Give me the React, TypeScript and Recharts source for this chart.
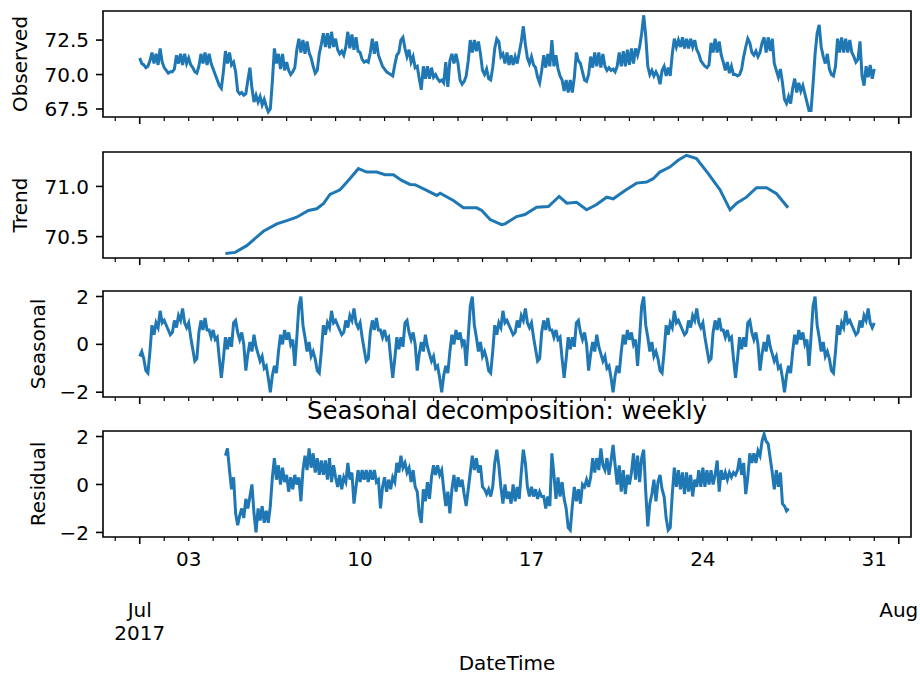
import { Line, LineChart, ReferenceArea, XAxis, YAxis } from "recharts";

// samples every 2 hours, x is days since 2017-07-01 00:00
const STEP = 1 / 12;
const RESIDUAL_START = 3.5;

const observed = [
  71.2, 70.8, 70.7, 70.5, 70.6, 71.0, 71.6, 70.8, 71.5, 70.7, 71.9, 70.9,
  70.5, 70.3, 70.1, 70.2, 70.2, 70.4, 71.4, 70.8, 71.5, 70.7, 71.5, 70.8,
  71.2, 70.7, 70.5, 70.2, 70.1, 70.6, 71.5, 70.8, 71.6, 70.7, 71.5, 70.8,
  70.4, 70.0, 69.6, 69.2, 69.0, 70.2, 71.7, 70.8, 71.6, 70.7, 70.9, 70.2,
  68.8, 68.6, 68.7, 68.5, 68.6, 69.6, 70.5, 69.0, 68.0, 68.5, 68.0, 68.4,
  67.8, 68.2, 67.7, 67.3, 67.5, 69.5, 71.9, 70.8, 71.5, 70.4, 71.5, 70.3,
  70.9, 70.3, 70.0, 70.2, 70.5, 71.8, 72.6, 71.6, 72.5, 71.5, 72.4, 71.6,
  71.2, 70.6, 70.1, 70.3, 71.5, 72.2, 73.0, 72.0, 73.0, 71.9, 73.1, 72.0,
  72.6, 71.8, 71.5, 71.7, 71.4, 72.0, 73.1, 71.9, 72.9, 71.8, 72.7, 71.7,
  71.6, 71.1, 70.9, 71.0, 70.9, 71.6, 72.6, 71.5, 72.4, 71.4, 71.0, 70.6,
  70.4, 70.2, 70.1, 70.0, 69.9, 70.7, 71.4, 71.6, 72.5, 72.7, 71.9, 71.3,
  71.8, 70.9, 71.3, 70.5, 70.6, 69.7, 68.9, 70.6, 69.7, 70.6, 69.7, 70.5,
  69.8, 70.0, 69.7, 69.5, 69.6, 69.4, 70.9, 69.1, 71.0, 71.5, 70.8, 71.5,
  70.8, 69.6, 69.3, 69.5, 69.9, 71.0, 72.5, 71.6, 72.5, 71.7, 72.4, 71.5,
  70.3, 70.0, 70.4, 69.7, 69.6, 70.5, 71.9, 72.6, 72.4, 71.3, 71.5, 70.8,
  71.6, 70.7, 71.4, 70.7, 71.3, 70.8, 71.6, 72.4, 73.5, 72.2, 71.2, 70.8,
  71.3, 70.7, 70.5, 69.8, 69.4, 70.3, 71.4, 70.5, 71.5, 70.6, 72.5, 70.6,
  71.4, 70.4, 69.9, 69.6, 68.8, 69.6, 68.7, 69.6, 68.7, 69.8, 71.6, 71.0,
  70.8, 70.2, 69.6, 69.5, 70.0, 71.3, 70.5, 71.6, 70.6, 71.6, 70.5, 71.5,
  70.6, 70.3, 70.5, 70.3, 70.4, 70.2, 70.6, 71.6, 70.6, 71.7, 70.6, 71.8,
  70.7, 71.9, 70.8, 71.9, 71.4, 72.0, 73.0, 74.3, 72.8, 70.6, 70.0, 70.3,
  69.9, 70.2, 69.9, 69.3, 70.3, 70.6, 69.9, 70.5, 69.9, 71.5, 72.6, 72.0,
  72.5, 72.0, 72.7, 71.9, 72.6, 71.9, 72.6, 72.0, 72.5, 71.8, 71.5, 71.0,
  70.8, 70.6, 70.5, 70.7, 72.3, 71.6, 72.6, 71.6, 72.4, 71.4, 70.9, 70.3,
  70.9, 70.1, 70.6, 70.0, 70.0, 69.9, 70.0, 70.4, 71.3, 72.0, 72.6, 72.3,
  71.6, 71.4, 71.7, 71.3, 71.6, 72.3, 72.7, 71.6, 72.7, 71.7, 72.6, 70.8,
  70.3, 69.8, 70.4, 69.4, 68.2, 67.9, 68.4, 67.9, 69.0, 69.7, 68.7, 69.4,
  68.8, 69.2, 68.6, 68.0, 67.4, 67.4, 69.3, 71.5, 73.0, 73.6, 72.0, 71.3,
  70.8, 71.5, 70.4, 70.0, 69.9, 70.6, 72.6, 71.6, 72.7, 71.6, 72.6, 71.6,
  72.5, 71.6, 71.3, 70.9, 71.1, 72.4, 69.9, 69.2, 70.6, 69.8, 70.7, 69.7,
  70.4,
];

const trendDays = [
  3.5, 3.9, 4.37, 5.05, 5.6, 6.01, 6.41, 6.89, 7.23, 7.5,
  7.77, 8.18, 8.52, 8.93, 9.27, 9.68, 10.02, 10.36, 10.7, 11.04,
  11.24, 11.72, 12.13, 12.27, 12.81, 13.22, 13.76, 13.97, 14.31, 14.78,
  14.92, 15.39, 15.73, 16.21, 16.69, 17.13, 17.44, 17.84, 18.25, 18.66,
  19.07, 19.34, 19.82, 20.29, 20.7, 20.97, 21.24, 21.65, 21.99, 22.33,
  22.74, 23.22, 23.7, 24.11, 24.38, 24.78, 25.19, 25.6, 26.01, 26.48,
];
const trendValues = [
  70.333, 70.343, 70.41, 70.553, 70.627, 70.66, 70.693, 70.76, 70.777, 70.827,
  70.92, 70.967, 71.06, 71.177, 71.143, 71.143, 71.117, 71.117, 71.06, 71.02,
  71.017, 70.96, 70.91, 70.933, 70.86, 70.787, 70.787, 70.76, 70.67, 70.62,
  70.627, 70.7, 70.72, 70.793, 70.8, 70.9, 70.833, 70.843, 70.767, 70.82,
  70.893, 70.877, 70.96, 71.033, 71.043, 71.077, 71.143, 71.193, 71.26, 71.31,
  71.277, 71.127, 70.967, 70.767, 70.833, 70.893, 70.987, 70.987, 70.927, 70.787,
];

// weekly component, same shape each week (Jul 1, 8, 15, 22, 29)
const seasonal = [
  -0.5, -0.3, -0.6, -1.1, -1.2, -0.3, 0.8, 0.4, 0.9, 0.7, 1.4, 0.9,
  1.0, 0.8, 0.6, 0.4, 0.5, 1.0, 0.7, 1.2, 1.0, 1.5, 0.9, 0.7,
  0.9, 0.3, -0.2, -0.7, -0.6, 0.5, 1.0, 0.6, 1.1, 0.6, 0.6, 0.3,
  0.6, 0.2, 0.3, -0.6, -1.4, -0.6, 0.3, -0.2, 0.3, -0.1, 0.9, 1.0,
  0.5, 0.2, 0.5, 0.0, -1.1, -0.4, 0.1, -0.3, 0.4, -0.1, -0.4, -0.7,
  -0.5, -1.0, -0.9, -1.4, -2.0, -1.3, -0.9, -1.2, -0.3, 0.4, 0.0, 0.6,
  0.2, 0.5, 0.0, 0.2, -0.9, 0.3, 1.6, 2.0, 0.8, 0.3, -0.3, 0.1,
  -0.5, -0.3, -0.6, -1.1, -1.2, -0.3, 0.8, 0.4, 0.9, 0.7, 1.4, 0.9,
  1.0, 0.8, 0.6, 0.4, 0.5, 1.0, 0.7, 1.2, 1.0, 1.5, 0.9, 0.7,
  0.9, 0.3, -0.2, -0.7, -0.6, 0.5, 1.0, 0.6, 1.1, 0.6, 0.6, 0.3,
  0.6, 0.2, 0.3, -0.6, -1.4, -0.6, 0.3, -0.2, 0.3, -0.1, 0.9, 1.0,
  0.5, 0.2, 0.5, 0.0, -1.1, -0.4, 0.1, -0.3, 0.4, -0.1, -0.4, -0.7,
  -0.5, -1.0, -0.9, -1.4, -2.0, -1.3, -0.9, -1.2, -0.3, 0.4, 0.0, 0.6,
  0.2, 0.5, 0.0, 0.2, -0.9, 0.3, 1.6, 2.0, 0.8, 0.3, -0.3, 0.1,
  -0.5, -0.3, -0.6, -1.1, -1.2, -0.3, 0.8, 0.4, 0.9, 0.7, 1.4, 0.9,
  1.0, 0.8, 0.6, 0.4, 0.5, 1.0, 0.7, 1.2, 1.0, 1.5, 0.9, 0.7,
  0.9, 0.3, -0.2, -0.7, -0.6, 0.5, 1.0, 0.6, 1.1, 0.6, 0.6, 0.3,
  0.6, 0.2, 0.3, -0.6, -1.4, -0.6, 0.3, -0.2, 0.3, -0.1, 0.9, 1.0,
  0.5, 0.2, 0.5, 0.0, -1.1, -0.4, 0.1, -0.3, 0.4, -0.1, -0.4, -0.7,
  -0.5, -1.0, -0.9, -1.4, -2.0, -1.3, -0.9, -1.2, -0.3, 0.4, 0.0, 0.6,
  0.2, 0.5, 0.0, 0.2, -0.9, 0.3, 1.6, 2.0, 0.8, 0.3, -0.3, 0.1,
  -0.5, -0.3, -0.6, -1.1, -1.2, -0.3, 0.8, 0.4, 0.9, 0.7, 1.4, 0.9,
  1.0, 0.8, 0.6, 0.4, 0.5, 1.0, 0.7, 1.2, 1.0, 1.5, 0.9, 0.7,
  0.9, 0.3, -0.2, -0.7, -0.6, 0.5, 1.0, 0.6, 1.1, 0.6, 0.6, 0.3,
  0.6, 0.2, 0.3, -0.6, -1.4, -0.6, 0.3, -0.2, 0.3, -0.1, 0.9, 1.0,
  0.5, 0.2, 0.5, 0.0, -1.1, -0.4, 0.1, -0.3, 0.4, -0.1, -0.4, -0.7,
  -0.5, -1.0, -0.9, -1.4, -2.0, -1.3, -0.9, -1.2, -0.3, 0.4, 0.0, 0.6,
  0.2, 0.5, 0.0, 0.2, -0.9, 0.3, 1.6, 2.0, 0.8, 0.3, -0.3, 0.1,
  -0.5, -0.3, -0.6, -1.1, -1.2, -0.3, 0.8, 0.4, 0.9, 0.7, 1.4, 0.9,
  1.0, 0.8, 0.6, 0.4, 0.5, 1.0, 0.7, 1.2, 1.0, 1.5, 0.9, 0.7,
  0.9,
];

const residual = [
  1.2, 1.5, 0.6, -0.2, 0.3, -1.2, -1.7, -1.3, -1.0, -1.4, -0.6, -1.0,
  -0.5, 0.0, -1.2, -2.0, -1.0, -1.5, -0.9, -1.6, -1.1, -1.6, -0.9, 0.3,
  1.1, 0.2, 0.8, 0.0, 0.7, 0.1, 0.4, -0.3, 0.3, -0.2, 0.4, 0.0,
  0.3, -0.7, 0.6, 1.2, 0.6, 1.5, 0.7, 1.3, 0.5, 1.1, 0.4, 1.0,
  0.4, 1.0, 0.2, 1.1, 0.1, 0.8, 0.3, -0.1, 0.4, -0.2, 0.3, 0.1,
  0.9, 0.2, 0.5, -0.8, -0.1, 0.6, 0.1, 0.6, 0.2, 0.6, 0.1, 0.6,
  0.2, 0.6, 0.1, 0.2, -1.0, -0.1, 0.3, -0.3, 0.2, -0.2, 0.3, 0.1,
  0.9, 0.5, 1.2, 0.7, 0.9, 0.5, 0.7, 0.1, 0.6, -0.1, -0.3, -1.2,
  -1.6, -0.2, -0.7, 0.1, -0.6, 0.3, 0.8, 0.4, 0.8, 0.4, 0.6, -0.2,
  -0.9, -0.3, -1.2, -0.2, 0.4, -0.3, 0.3, -0.1, 0.2, -0.4, -0.9, -0.2,
  0.5, 1.2, 0.6, 1.1, 0.5, 0.8, -0.1, -0.2, -0.4, -0.2, -0.5, -0.1,
  0.9, 1.45, 0.8, -0.1, -0.8, 0.0, -0.6, -0.3, -0.8, 0.0, -0.7, -0.1,
  -0.6, 0.5, 1.45, 0.9, -0.1, -0.5, -0.1, -0.5, -0.2, -0.6, -0.3, -0.5,
  -0.5, -1.0, -0.5, -0.9, 1.3, 0.4, -0.6, 0.3, -0.5, 0.1, -0.6, -1.0,
  -1.8, -1.9, -0.9, -0.1, -0.7, -0.2, -0.8, 0.0, -0.1, 0.2, -0.1, 0.3,
  1.1, 0.5, 1.1, 0.6, 1.5, 0.8, 0.6, 1.1, 0.4, 1.0, 1.65, 0.8,
  0.0, 0.8, -0.3, 0.6, -0.4, 0.4, 0.0, 0.5, 1.3, 0.2, 1.2, 0.1,
  1.1, 1.45, -0.3, -1.75, -0.8, -0.4, 0.2, -0.7, 0.1, 0.4, -0.2, -0.5,
  -1.4, -1.9, -1.8, -0.4, 0.7, -0.1, 0.6, -0.2, 0.5, -0.4, 0.5, -0.3,
  0.4, -0.5, 0.2, -0.1, 0.6, -0.1, 0.7, -0.1, 0.6, 0.0, 0.6, 0.0,
  0.4, 1.0, -0.3, 0.6, 0.2, 0.5, 0.2, 0.5, 0.3, 0.5, 0.4, 0.6,
  1.1, 0.4, 0.9, -0.4, 0.3, 1.3, 0.9, 1.3, 0.9, 1.4, 1.2, 1.8,
  2.1, 1.8, 1.7, 1.1, 0.5, -0.2, 0.6, -0.1, 0.5, -0.8, -0.9, -1.1,
  -1.0,
];

const dayTicks = [
  -1, 0, 1, 2, 3, 4, 5, 6, 7, 8, 9, 10, 11, 12, 13, 14, 15, 16,
  17, 18, 19, 20, 21, 22, 23, 24, 25, 26, 27, 28, 29, 30, 31,
];
const labelDays = [2, 9, 16, 23, 30];
const labelText = ["03", "10", "17", "24", "31"];
const monthDays = [0, 31];
const monthText = [["Jul", "2017"], ["Aug"]];

const X_DOMAIN: [number, number] = [-1.5, 31.5];
const BLUE = "#1f77b4";
const FONT = '"DejaVu Sans", sans-serif';
const PLOT_H = 106;

const oneDecimal = (v: number) => v.toFixed(1);
const signed = (v: number) => (v < 0 ? `\u2212${-v}` : `${v}`);

function DayTick({ x, y, payload, showText }: any) {
  const d = payload.value;
  const m = monthDays.indexOf(d);
  const l = labelDays.indexOf(d);
  return (
    <g>
      <line
        x1={x}
        x2={x}
        y1={y}
        y2={y + (m >= 0 ? 7 : 4)}
        stroke="#000"
        strokeWidth={m >= 0 ? 1.6 : 1.2}
      />
      {showText && l >= 0 && (
        <text x={x} y={y + 29} textAnchor="middle" fontSize={20} fill="#000">
          {labelText[l]}
        </text>
      )}
      {showText &&
        m >= 0 &&
        monthText[m].map((s, j) => (
          <text key={s} x={x} y={y + 80 + 23 * j} textAnchor="middle" fontSize={20} fill="#000">
            {s}
          </text>
        ))}
    </g>
  );
}

// rotated y label; own prop names so the axis can't overwrite them
function SideLabel({ caption, baseX, midY }: any) {
  return (
    <text
      x={baseX}
      y={midY}
      transform={`rotate(-90 ${baseX} ${midY})`}
      textAnchor="middle"
      fontSize={20}
      fill="#000"
    >
      {caption}
    </text>
  );
}

function Panel({
  top,
  mt,
  data,
  domain,
  ticks,
  fmt,
  name,
  nameX,
  bottom = false,
  title,
}: {
  top: number;
  mt: number;
  data: { t: number; v: number }[];
  domain: [number, number];
  ticks: number[];
  fmt: (v: number) => string;
  name: string;
  nameX: number;
  bottom?: boolean;
  title?: string;
}) {
  const xh = bottom ? 675 - (top + PLOT_H) : 12;
  return (
    <div style={{ position: "absolute", left: 0, top: top - mt }}>
      <LineChart
        width={920}
        height={mt + PLOT_H + xh}
        data={data}
        margin={{ top: mt, right: 9, bottom: 0, left: 0 }}
      >
        <XAxis
          dataKey="t"
          type="number"
          domain={X_DOMAIN}
          ticks={dayTicks}
          interval={0}
          allowDataOverflow
          height={xh}
          axisLine={false}
          tickLine={false}
          tickSize={0}
          tickMargin={0}
          tick={<DayTick showText={bottom} />}
          label={
            bottom
              ? { value: "DateTime", position: "insideBottom", offset: 5, fill: "#000", fontSize: 20 }
              : undefined
          }
        />
        <YAxis
          type="number"
          domain={domain}
          ticks={ticks}
          interval={0}
          allowDataOverflow
          width={103}
          axisLine={false}
          tickSize={7}
          tickMargin={7}
          tickLine={{ stroke: "#000", strokeWidth: 1.6 }}
          tick={{ fill: "#000", fontSize: 20 }}
          tickFormatter={fmt}
          label={<SideLabel caption={name} baseX={nameX} midY={mt + PLOT_H / 2} />}
        />
        <ReferenceArea
          x1={X_DOMAIN[0]}
          x2={X_DOMAIN[1]}
          y1={domain[0]}
          y2={domain[1]}
          fill="none"
          fillOpacity={0}
          stroke="#000"
          strokeWidth={1.6}
          ifOverflow="visible"
          label={
            title
              ? { value: title, position: "top", offset: 12, fill: "#000", fontSize: 24.5 }
              : undefined
          }
        />
        <Line
          dataKey="v"
          type="linear"
          stroke={BLUE}
          strokeWidth={3}
          dot={false}
          isAnimationActive={false}
        />
      </LineChart>
    </div>
  );
}

export default function App() {
  const obsData = observed.map((v, i) => ({ t: i * STEP, v }));
  const trendData = trendValues.map((v, i) => ({ t: trendDays[i], v }));
  const seasData = seasonal.map((v, i) => ({ t: i * STEP, v }));
  const resData = residual.map((v, i) => ({ t: RESIDUAL_START + i * STEP, v }));

  return (
    <div
      style={{
        position: "absolute",
        left: 0,
        top: 0,
        width: 920,
        height: 675,
        background: "#fff",
        fontFamily: FONT,
        fontSize: 20,
      }}
    >
      <Panel
        top={11}
        mt={10}
        data={obsData}
        domain={[66.92, 74.61]}
        ticks={[67.5, 70, 72.5]}
        fmt={oneDecimal}
        name="Observed"
        nameX={27}
      />
      <Panel
        top={152}
        mt={10}
        data={trendData}
        domain={[70.287, 71.343]}
        ticks={[70.5, 71]}
        fmt={oneDecimal}
        name="Trend"
        nameX={27}
      />
      <Panel
        top={291}
        mt={10}
        data={seasData}
        domain={[-2.2, 2.23]}
        ticks={[-2, 0, 2]}
        fmt={signed}
        name="Seasonal"
        nameX={45}
      />
      <Panel
        top={431}
        mt={40}
        data={resData}
        domain={[-2.19, 2.23]}
        ticks={[-2, 0, 2]}
        fmt={signed}
        name="Residual"
        nameX={45}
        bottom
        title="Seasonal decomposition: weekly"
      />
    </div>
  );
}
